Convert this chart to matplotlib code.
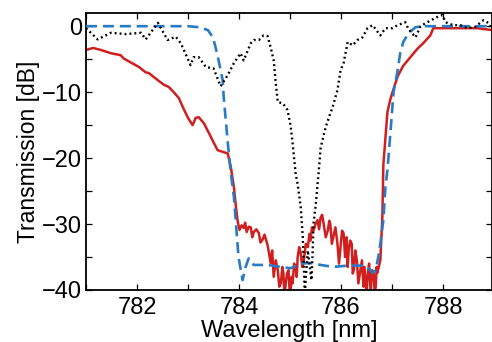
import matplotlib
matplotlib.use("Agg")
import matplotlib.pyplot as plt
from matplotlib.ticker import MultipleLocator

plt.rcParams['font.family'] = ['Liberation Sans', 'DejaVu Sans']

# Measured (black dotted)
meas_x = [781.00, 781.23, 781.49, 781.78, 782.08, 782.17, 782.41, 782.60, 782.76, 782.86,
          783.05, 783.11, 783.21, 783.35, 783.50, 783.64, 783.78, 783.90, 784.03, 784.09,
          784.23, 784.29, 784.39, 784.48, 784.56, 784.62, 784.68, 784.72, 784.76, 784.86,
          784.95, 785.01, 785.05, 785.11, 785.15, 785.21, 785.25, 785.27, 785.29, 785.31,
          785.35, 785.38, 785.42, 785.44, 785.46, 785.50, 785.56, 785.60, 785.66, 785.70,
          785.79, 785.83, 785.93, 785.99, 786.05, 786.13, 786.23, 786.32, 786.42, 786.52,
          786.62, 786.77, 786.87, 787.01, 787.11, 787.26, 787.32, 787.46, 787.56, 787.69,
          787.89, 787.99, 788.05, 788.20, 788.34, 788.48, 788.63, 788.79, 788.89, 788.97]
meas_y = [-0.3, -2.0, -1.0, -1.2, -1.0, -2.0, 0.5, -2.1, -1.6, -2.6,
          -5.9, -4.7, -4.7, -6.2, -6.4, -9.1, -7.4, -5.6, -4.1, -5.2,
          -2.6, -2.1, -2.1, -1.4, -1.5, -3.2, -5.2, -8.6, -11.5, -11.7,
          -12.7, -15.0, -17.7, -22.3, -24.0, -27.4, -32.0, -36.0, -41.0, -38.0,
          -34.0, -36.0, -38.5, -35.0, -30.0, -27.4, -22.3, -18.5, -16.5, -15.3,
          -13.2, -12.4, -9.7, -6.7, -5.6, -2.4, -2.9, -2.1, -1.7, -0.3,
          0.15, -1.4, -0.3, -0.3, 0.15, 0.6, -0.4, -1.7, 0.0, 0.6,
          1.4, 1.7, 0.6, 0.15, 0.15, -0.3, -0.1, 0.9, 0.5, -0.6]

# Simulated filter (blue dashed)
sim_x = [781.00, 782.00, 783.00, 783.21, 783.39, 783.49, 783.54, 783.60, 783.68, 783.70,
         783.74, 783.78, 783.84, 783.90, 783.95, 783.99, 784.07, 784.13, 784.19, 784.29,
         784.56, 784.82, 785.01, 785.21, 785.40, 785.60, 785.85, 786.13, 786.38, 786.52,
         786.62, 786.68, 786.73, 786.77, 786.83, 786.87, 786.91, 786.97, 787.03, 787.11,
         787.16, 787.22, 787.32, 787.46, 787.65, 788.50, 789.00]
sim_y = [0.0, 0.0, 0.0, -0.15, -0.6, -1.7, -3.2, -5.2, -8.2, -10.8,
         -14.2, -17.7, -22.3, -25.9, -30.9, -35.0, -38.5, -36.5, -35.2, -36.2,
         -36.2, -36.5, -36.7, -36.0, -35.9, -36.2, -36.5, -36.3, -36.3, -36.5,
         -37.4, -37.0, -35.0, -33.0, -29.4, -24.4, -21.8, -16.0, -10.0, -6.7,
         -4.1, -2.4, -1.1, -0.15, 0.0, 0.0, 0.0]

# Fabricated filter (red solid)
fab_x = [781.00, 781.14, 781.29, 781.49, 781.68, 781.74, 781.88, 782.04, 782.17, 782.23,
         782.41, 782.53, 782.62, 782.72, 782.82, 782.90, 783.00, 783.09, 783.15, 783.21,
         783.31, 783.41, 783.50, 783.58, 783.70, 783.78, 783.84, 783.90, 783.94, 783.97,
         784.01, 784.05, 784.09, 784.12, 784.15, 784.19, 784.23, 784.26, 784.29, 784.34,
         784.39, 784.42, 784.46, 784.50, 784.56, 784.59, 784.62, 784.65, 784.68, 784.72,
         784.76, 784.79, 784.82, 784.85, 784.87, 784.89, 784.91, 784.94, 784.97, 784.99,
         785.01, 785.03, 785.05, 785.08, 785.11, 785.13, 785.15, 785.18, 785.21, 785.24,
         785.27, 785.31, 785.35, 785.38, 785.40, 785.43, 785.46, 785.50, 785.54, 785.57,
         785.60, 785.63, 785.66, 785.70, 785.74, 785.77, 785.79, 785.82, 785.85, 785.89,
         785.93, 785.96, 785.99, 786.02, 786.05, 786.08, 786.11, 786.13, 786.15, 786.18,
         786.21, 786.23, 786.25, 786.28, 786.31, 786.34, 786.38, 786.41, 786.44, 786.46,
         786.48, 786.50, 786.52, 786.55, 786.58, 786.61, 786.64, 786.66, 786.68, 786.70,
         786.71, 786.74, 786.77, 786.81, 786.83, 786.87, 786.91, 786.97, 787.03, 787.11,
         787.22, 787.36, 787.50, 787.61, 787.75, 787.81, 788.08, 788.34, 788.67, 788.97]
fab_y = [-3.6, -3.3, -3.6, -4.1, -4.4, -4.9, -5.5, -6.2, -7.0, -7.1,
         -8.2, -8.9, -9.2, -10.0, -10.9, -12.3, -13.9, -15.0, -13.9, -13.8,
         -14.7, -16.2, -17.6, -18.8, -19.1, -19.3, -21.4, -24.4, -27.4, -29.4,
         -30.9, -30.2, -30.6, -29.8, -31.2, -30.4, -30.5, -32.0, -31.2, -30.8,
         -31.4, -32.8, -32.4, -31.6, -33.2, -34.5, -35.9, -34.0, -38.0, -35.5,
         -37.0, -39.5, -39.0, -36.5, -37.5, -40.5, -39.5, -37.5, -37.0, -39.8,
         -40.5, -38.0, -39.0, -36.0, -36.5, -38.0, -35.0, -33.5, -34.4, -36.5,
         -35.5, -33.0, -33.5, -31.5, -32.5, -30.5, -31.0, -30.0, -29.4, -30.8,
         -29.0, -28.6, -30.0, -32.0, -31.0, -29.5, -30.0, -33.0, -31.9, -30.5,
         -33.0, -36.0, -33.5, -31.0, -31.4, -35.0, -32.0, -36.5, -34.0, -32.5,
         -33.0, -37.5, -37.0, -34.0, -35.5, -39.0, -37.0, -35.5, -39.5, -36.5,
         -38.5, -40.5, -38.0, -36.0, -40.5, -37.0, -37.5, -40.5, -39.5, -36.5,
         -37.4, -36.5, -35.5, -29.0, -21.0, -17.0, -13.0, -11.0, -9.5, -7.6,
         -6.0, -4.7, -3.4, -2.6, -1.4, -0.3, -0.3, -0.3, -0.3, -0.6]

x_ticks = [782, 784, 786, 788]
y_ticks = [-40, -30, -20, -10, 0]

fig = plt.figure(figsize=(4.92, 3.42), dpi=100)
ax = fig.add_axes([86/492, 1 - 290/342, 406/492, 277/342])

ax.plot(fab_x, fab_y, color='#d11f1f', lw=1.8, zorder=2)
ax.plot(sim_x, sim_y, color='#2a7bc6', lw=1.9, ls=(0, (4.2, 2.2)), zorder=3)
ax.plot(meas_x, meas_y, color='black', lw=1.7, ls=(0, (0.8, 1.3)), zorder=4)

ax.set_xlim(781, 788.96)
ax.set_ylim(-40, 2)
ax.set_xticks(x_ticks)
ax.set_yticks(y_ticks)
ax.xaxis.set_minor_locator(MultipleLocator(1))
ax.yaxis.set_minor_locator(MultipleLocator(5))
ax.tick_params(which='both', direction='in', top=True, right=True,
               labelsize=17, width=0.9, length=4)
ax.tick_params(axis='x', which='major', pad=5)
ax.tick_params(axis='y', which='major', pad=3)
for s in ax.spines.values():
    s.set_linewidth(1.3)

ax.set_xlabel('Wavelength [nm]', fontsize=17, labelpad=0.5)
ax.set_ylabel('Transmission [dB]', fontsize=16.5, labelpad=1)

fig.savefig('out.png', dpi=100)
